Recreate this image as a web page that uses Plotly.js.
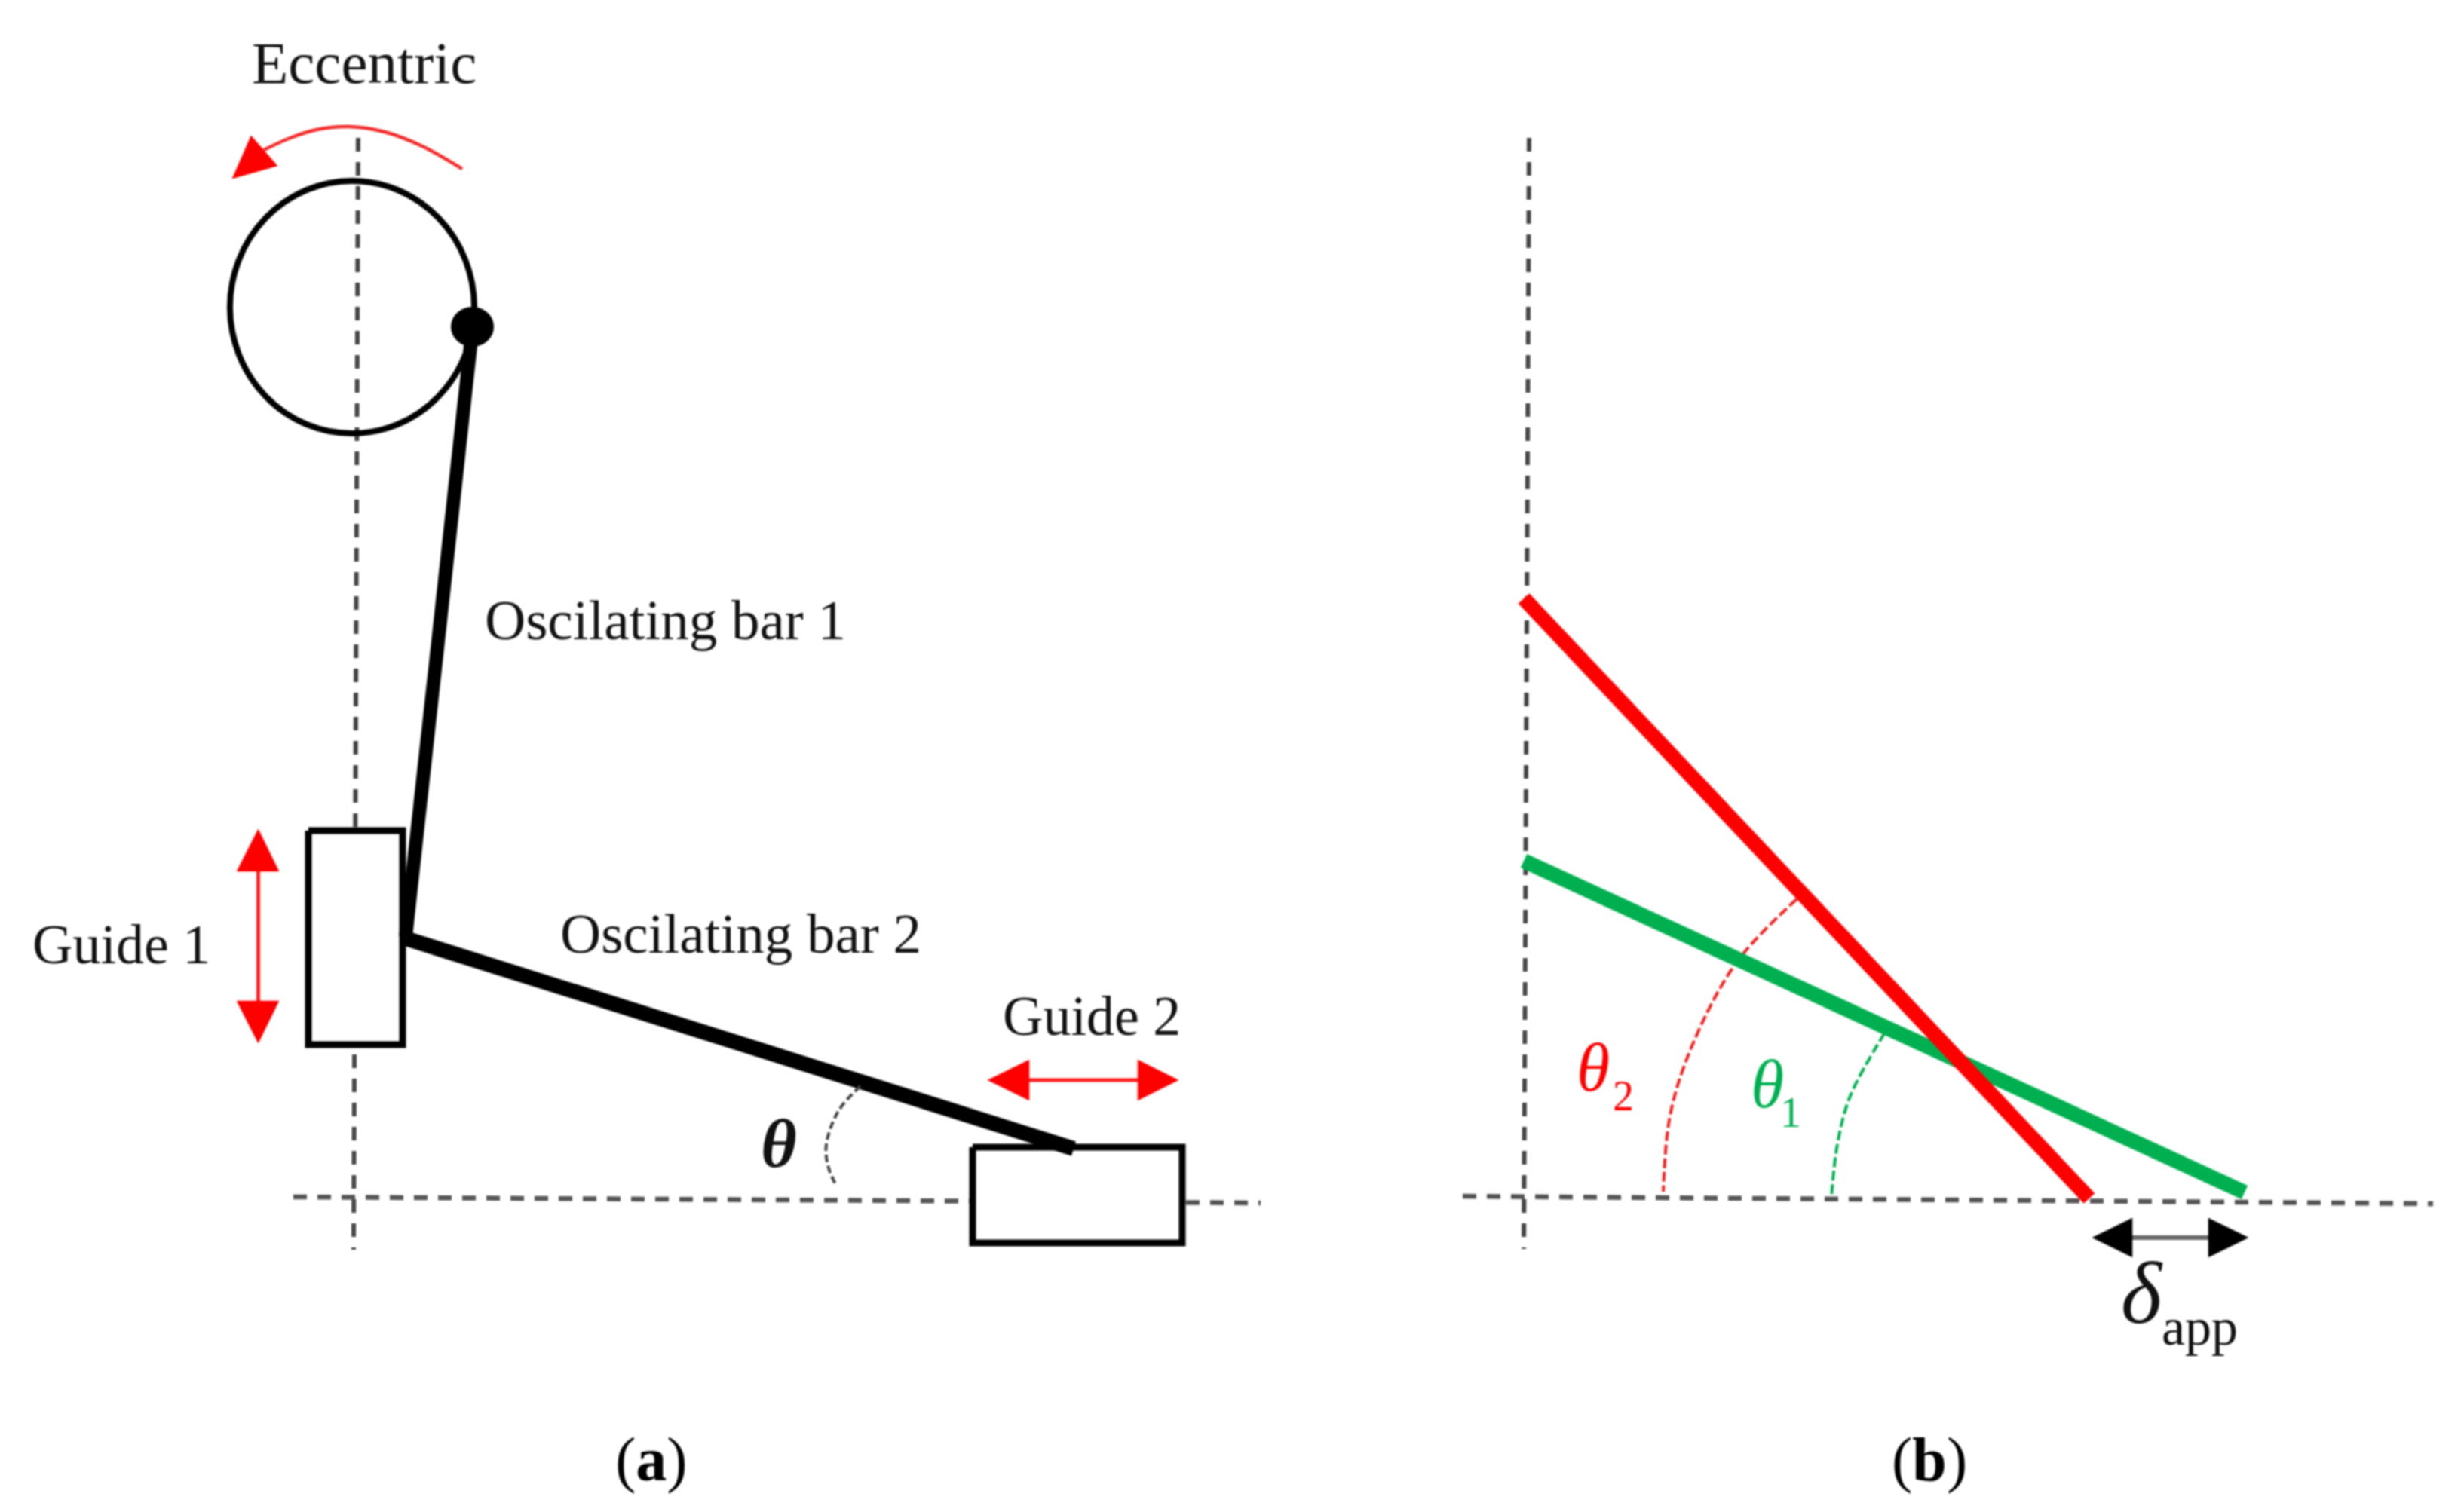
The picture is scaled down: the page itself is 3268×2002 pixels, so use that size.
<!DOCTYPE html>
<html><head><meta charset="utf-8">
<script src="https://cdn.plot.ly/plotly-3.0.1.min.js"></script>
<style>html,body{margin:0;padding:0;background:#fff}#c{width:3268px;height:2002px;filter:blur(0.9px)}</style>
</head><body><div id="c"></div>
<script>
// Guide lines (dashed)
var vDashAX=[475,469], vDashAY=[183,1658];
var hDashAX=[389,1672], hDashAY=[1588,1596];
var vDashBX=[2028,2021], vDashBY=[183,1657];
var hDashBX=[1940,3227], hDashBY=[1587,1597];
// Boxes
var guide1X=[409,534,534,409,409], guide1Y=[1102,1102,1386,1386,1102];
var guide2X=[1290,1568,1568,1290,1290], guide2Y=[1522,1522,1649,1649,1522];
// Oscillating bars
var bar1X=[627,538], bar1Y=[432,1243];
var bar2X=[538,1424], bar2Y=[1245,1524];
// Lines in panel b
var redLineX=[2021,2771], redLineY=[794,1590];
var greenLineX=[2021,2977], greenLineY=[1142,1582];
// Arcs
var rotArcX=[613,560,510,463,420,385,350], rotArcY=[224,194,175,168,172,183,199];
var thetaArcX=[1141,1112,1096,1098,1109], thetaArcY=[1441,1474,1518,1546,1573];
var theta2ArcX=[2383,2303,2244,2215,2206], theta2ArcY=[1193,1277,1388,1480,1581];
var theta1ArcX=[2500,2454,2437,2429], theta1ArcY=[1370,1454,1518,1589];
// Arrow heads and shafts
var rotHeadX=[308,333,368,308], rotHeadY=[237,180,220,237];
var g1ShaftX=[342.5,342.5], g1ShaftY=[1156,1328];
var g1UpX=[342.5,314,370,342.5], g1UpY=[1100,1156,1156,1100];
var g1DownX=[342.5,314,370,342.5], g1DownY=[1384,1328,1328,1384];
var g2ShaftX=[1365,1509], g2ShaftY=[1433,1433];
var g2LeftX=[1310,1365,1365,1310], g2LeftY=[1433,1406,1460,1433];
var g2RightX=[1563,1509,1509,1563], g2RightY=[1433,1406,1460,1433];
var dShaftX=[2828,2929], dShaftY=[1642,1642];
var dLeftX=[2775,2828,2828,2775], dLeftY=[1642,1616,1668,1642];
var dRightX=[2982,2929,2929,2982], dRightY=[1642,1616,1668,1642];
// Labels
var serif='"Liberation Serif", serif';
var labels=[
 ['Eccentric',333,83,79,'#111'],
 ['Oscilating bar 1',642,822,75,'#111'],
 ['Oscilating bar 2',742,1238,75,'#111'],
 ['Guide 1',42,1253,74,'#111'],
 ['Guide 2',1329,1348,74,'#111'],
 ['<b><i>θ</i></b>',1008,1517,92,'#111'],
 ['<i>θ</i>',2090,1416,90,'#ff0000'],
 ['2',2138,1454,56,'#ff0000'],
 ['<i>θ</i>',2321,1438,90,'#00b050'],
 ['1',2360,1476,56,'#00b050'],
 ['<i>δ</i>',2812,1716,116,'#111'],
 ['app',2866,1760,70,'#111'],
 ['(<b>a</b>)',815,1936,82,'#000'],
 ['(<b>b</b>)',2508,1936,82,'#000']
];

function line(x,y,color,width,dash,shape){
  return {type:'scatter',mode:'lines',x:x,y:y,hoverinfo:'skip',showlegend:false,
    line:{color:color,width:width,dash:dash||'solid',shape:shape||'linear',smoothing:1}};
}
function fillT(x,y,color,lw,lc){
  return {type:'scatter',mode:'lines',x:x,y:y,fill:'toself',fillcolor:color,hoverinfo:'skip',showlegend:false,
    line:{color:lc||color,width:lw||0.5}};
}
var dash='18px,14px';
var traces=[
 line(vDashAX,vDashAY,'#444',6,dash),
 line(hDashAX,hDashAY,'#555',6.5,dash),
 line(vDashBX,vDashBY,'#444',6,dash),
 line(hDashBX,hDashBY,'#555',6.5,dash),
 fillT(guide1X,guide1Y,'#fff',9,'#000'),
 fillT(guide2X,guide2Y,'#fff',9,'#000'),
 line(bar1X,bar1Y,'#000',18),
 line(bar2X,bar2Y,'#000',20),
 line(rotArcX,rotArcY,'#f52a2a',4.5,'solid','spline'),
 fillT(rotHeadX,rotHeadY,'#ff0000'),
 line(thetaArcX,thetaArcY,'#444',4,'10px,5px','spline'),
 line(theta2ArcX,theta2ArcY,'#f02020',4,'13px,5px','spline'),
 line(theta1ArcX,theta1ArcY,'#00b050',4,'13px,5px','spline'),
 line(greenLineX,greenLineY,'#00b050',20),
 line(redLineX,redLineY,'#ff0000',20),
 line(g1ShaftX,g1ShaftY,'#ff2020',5), fillT(g1UpX,g1UpY,'#ff0000'), fillT(g1DownX,g1DownY,'#ff0000'),
 line(g2ShaftX,g2ShaftY,'#ff2020',5), fillT(g2LeftX,g2LeftY,'#ff0000'), fillT(g2RightX,g2RightY,'#ff0000'),
 line(dShaftX,dShaftY,'#666',6), fillT(dLeftX,dLeftY,'#000'), fillT(dRightX,dRightY,'#000')
];
var layout={
 width:3268,height:2002,margin:{l:0,r:0,t:0,b:0,pad:0},
 paper_bgcolor:'#fff',plot_bgcolor:'#fff',showlegend:false,
 xaxis:{range:[0,3268],visible:false,fixedrange:true},
 yaxis:{range:[2002,0],visible:false,fixedrange:true},
 shapes:[
  {type:'circle',xref:'x',yref:'y',x0:305,x1:629,y0:240,y1:575,line:{color:'#000',width:8},layer:'above'},
  {type:'circle',xref:'x',yref:'y',x0:598,x1:655,y0:407,y1:460,fillcolor:'#000',line:{color:'#000',width:0},layer:'above'}
 ],
 annotations:labels.map(function(l){
  return {text:l[0],x:l[1],y:l[2],xref:'x',yref:'y',xanchor:'left',yanchor:'middle',showarrow:false,
    borderpad:0,font:{family:serif,size:l[3],color:l[4]}};
 })
};
Plotly.newPlot('c',traces,layout,{displayModeBar:false,staticPlot:true});
</script></body></html>
